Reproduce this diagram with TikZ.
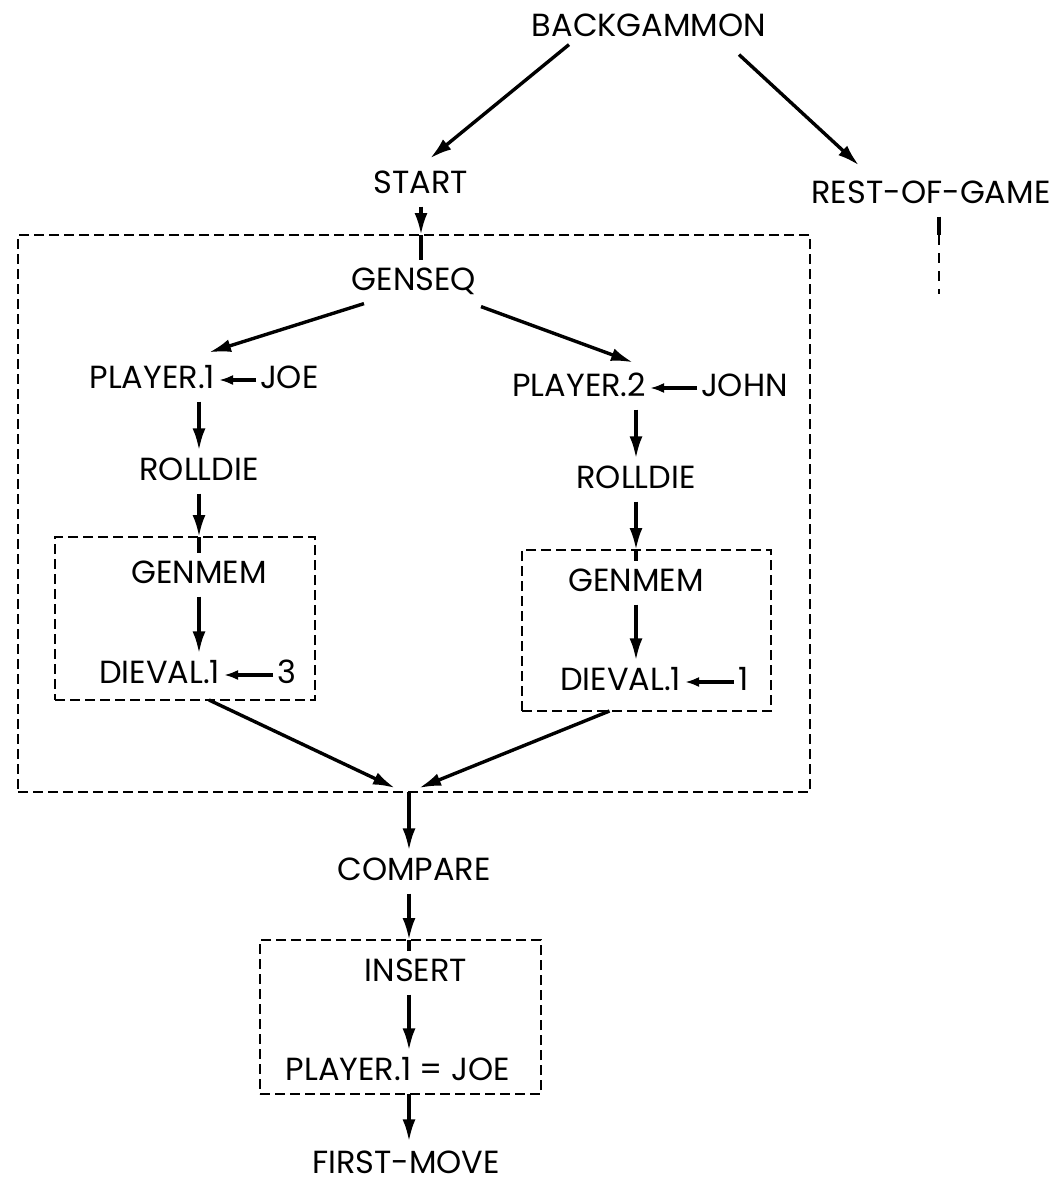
\documentclass[tikz,border=0pt]{standalone}
\usepackage{fontspec}
\setmainfont{Poppins}
\usetikzlibrary{arrows.meta}
\begin{document}
\begin{tikzpicture}[x=0.5pt,y=-0.5pt,
  lbl/.style={inner xsep=2pt,inner ysep=6.5pt,outer sep=0pt,text height=8.6pt,text depth=0pt,font=\fontsize{16pt}{18pt}\selectfont},
  arr/.style={line width=1.7pt,-{Latex[length=11pt,width=6.5pt]}},
  sarr/.style={line width=1.6pt,-{Latex[length=7pt,width=5pt]}},
  ln/.style={line width=1.7pt},
  dbox/.style={draw,line width=1.1pt,dash pattern=on 5pt off 2.5pt,inner sep=0pt,outer sep=0pt}]
\useasboundingbox (0,0) rectangle (1056,1183);
% boxes
\node[dbox,minimum width=396pt,minimum height=278.5pt] (B) at (414,513.5) {};
\node[dbox,minimum width=130pt,minimum height=81.5pt] (L1) at (185,618.5) {};
\node[dbox,minimum width=124.5pt,minimum height=80.5pt] (L2) at (646.5,630.5) {};
\node[dbox,minimum width=140.5pt,minimum height=77pt] (I) at (400.5,1017) {};
% labels
\node[lbl] (bg) at (649,28) {BACKGAMMON};
\node[lbl] (start) at (421,185) {START};
\node[lbl] (rest) at (931,195) {REST-OF-GAME};
\node[lbl] (genseq) at (414,282) {GENSEQ};
\node[lbl,anchor=east] (p1) at (219,380) {PLAYER.1};
\node[lbl,anchor=west] (joe) at (256,380) {JOE};
\node[lbl,anchor=east] (p2) at (650,388) {PLAYER.2};
\node[lbl,anchor=west] (john) at (697,388) {JOHN};
\node[lbl] (r1) at (199,472) {ROLLDIE};
\node[lbl] (r2) at (636,480) {ROLLDIE};
\node[lbl] (gm1) at (199,575) {GENMEM};
\node[lbl] (gm2) at (636,583) {GENMEM};
\node[lbl,anchor=east] (dv1) at (224,675) {DIEVAL.1};
\node[lbl,anchor=west] (three) at (273,675) {3};
\node[lbl,anchor=east] (dv2) at (685,682) {DIEVAL.1};
\node[lbl,anchor=west] (one) at (734,682) {1};
\node[lbl] (compare) at (414,872) {COMPARE};
\node[lbl] (insert) at (416,973) {INSERT};
\node[lbl] (pj) at (398,1072) {PLAYER.1 = JOE};
\node[lbl,inner ysep=1.5pt] (fm) at (406,1165) {FIRST-MOVE};
\coordinate (merge) at (409,792);
\coordinate (rmid) at (939,235);
\coordinate (rend) at (939,294);
% top connectors
\draw[arr] ([xshift=-40pt,yshift=2.5pt]bg.south) -- ([xshift=4.5pt,yshift=2.5pt]start.north);
\draw[arr] ([xshift=45pt,yshift=-2.5pt]bg.south) -- ([xshift=-36pt,yshift=4pt]rest.north);
\draw[ln] (rest.south -| rmid) -- (rmid);
\draw[line width=1.2pt,dash pattern=on 5pt off 4pt] (rmid) -- (rend);
\draw[arr] (start.south) -- (start.south |- B.north);
\draw[ln] (start.south |- B.north) -- (start.south |- genseq.north);
\draw[arr] ([xshift=-25pt]genseq.south) -- ([xshift=-5pt,yshift=3pt]p1.north east);
\draw[arr] ([xshift=33.5pt,yshift=-1.5pt]genseq.south) -- ([xshift=-8.5pt,yshift=2pt]p2.north east);
% assignments
\draw[sarr] (joe.west) -- (p1.east);
\draw[sarr] (john.west) -- (p2.east);
\draw[sarr] (three.west) -- (dv1.east);
\draw[sarr] (one.west) -- (dv2.east);
% left column
\draw[arr] (r1 |- p1.south) -- (r1.north);
\draw[arr] (r1.south) -- (r1.south |- L1.north);
\draw[ln] (r1.south |- L1.north) -- (gm1.north);
\draw[arr] (gm1.south) -- (gm1.south |- dv1.north);
% right column
\draw[arr] (r2 |- p2.south) -- (r2.north);
\draw[arr] (r2.south) -- (r2.south |- L2.north);
\draw[ln] (r2.south |- L2.north) -- (gm2.north);
\draw[arr] (gm2.south) -- (gm2.south |- dv2.north);
% merge
\draw[arr] ([xshift=12pt]L1.south) -- ([xshift=-7pt,yshift=2pt]merge);
\draw[arr] ([xshift=-18.5pt]L2.south) -- ([xshift=5pt,yshift=2pt]merge);
\draw[arr] (merge) -- (merge |- compare.north);
\draw[arr] (merge |- compare.south) -- (merge |- I.north);
\draw[ln] (merge |- I.north) -- (merge |- insert.north);
\draw[arr] (merge |- insert.south) -- (merge |- pj.north);
\draw[arr] (merge |- I.south) -- ([yshift=6pt]fm.north -| merge);
\end{tikzpicture}
\end{document}
